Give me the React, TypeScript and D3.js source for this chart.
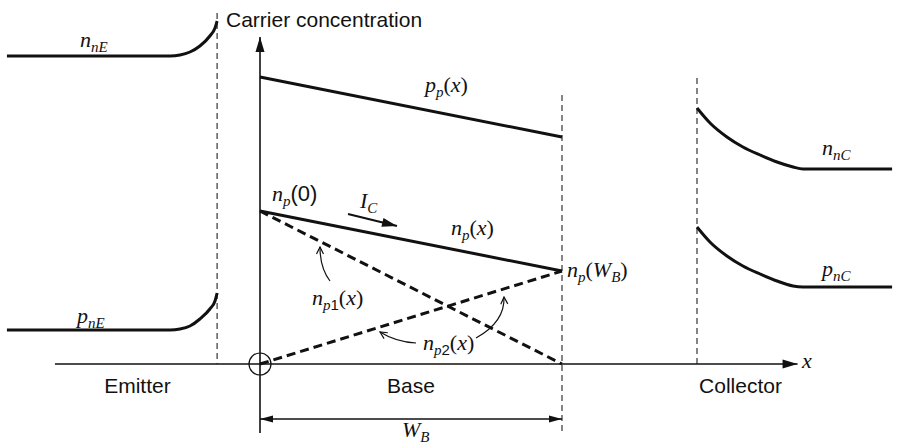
import React from "react";
import * as d3 from "d3";

// positions along x are in units of W_B (0 = emitter-base edge, 1 = base-collector edge)
const baseX = [0, 1];
const ppValues = [2.87, 2.27];
const npValues = [1.53, 0.93];
const np1Values = [1.53, 0];
const np2Values = [0, 0.93];

const emitterX = [-0.838, -0.298, -0.265, -0.232, -0.199, -0.166, -0.149, -0.142];
const nnEValues = [3.08, 3.08, 3.09, 3.12, 3.18, 3.28, 3.36, 3.43];
const pnEValues = [0.34, 0.34, 0.35, 0.38, 0.45, 0.55, 0.63, 0.71];

const collectorX = [1.447, 1.49, 1.546, 1.599, 1.656, 1.712, 1.765, 1.798, 2.093];
const nnCValues = [2.56, 2.41, 2.27, 2.17, 2.09, 2.02, 1.97, 1.95, 1.95];
const pnCValues = [1.37, 1.22, 1.08, 0.98, 0.9, 0.83, 0.78, 0.77, 0.77];

const regionNames = ["Emitter", "Base", "Collector"];
const regionCenters = [-0.406, 0.5, 1.591];

type Part = { t: string; it?: boolean; sub?: boolean; sans?: boolean };

const serif = "'Liberation Serif', 'DejaVu Serif', serif";
const sans = "'Liberation Sans', Arial, sans-serif";

function Label({ x, y, parts }: { x: number; y: number; parts: Part[] }) {
  let cur = 0;
  return (
    <text x={x} y={y} fontFamily={serif} fontSize={22} fill="#111">
      {parts.map((p, i) => {
        const target = p.sub ? 5 : 0;
        const dy = target - cur;
        cur = target;
        return (
          <tspan
            key={i}
            dy={dy}
            fontSize={p.sub ? 15 : 22}
            fontStyle={p.it ? "italic" : "normal"}
            fontFamily={p.sans ? sans : serif}
          >
            {p.t}
          </tspan>
        );
      })}
    </text>
  );
}

export default function App() {
  const x = d3.scaleLinear().domain([0, 1]).range([260, 562]);
  const y = d3.scaleLinear().domain([0, 1]).range([364, 264]);

  const straight = d3
    .line<[number, number]>()
    .x((d) => x(d[0]))
    .y((d) => y(d[1]));
  const smooth = d3
    .line<[number, number]>()
    .x((d) => x(d[0]))
    .y((d) => y(d[1]))
    .curve(d3.curveMonotoneX);

  const zip = (xs: number[], ys: number[]) =>
    xs.map((v, i) => [v, ys[i]] as [number, number]);

  const dark = "#111";

  return (
    <svg
      width={897}
      height={445}
      style={{ position: "absolute", left: 0, top: 0, background: "#fff" }}
    >
      <defs>
        <marker id="head" viewBox="-16 -6 17 12" markerWidth={17} markerHeight={12}
          refX={0} refY={0} orient="auto" markerUnits="userSpaceOnUse">
          <path d="M0,0 L-15,-4.5 L-15,4.5 Z" fill={dark} />
        </marker>
        <marker id="dim" viewBox="-14 -5 15 10" markerWidth={15} markerHeight={10}
          refX={0} refY={0} orient="auto-start-reverse" markerUnits="userSpaceOnUse">
          <path d="M0,0 L-13,-3.5 L-13,3.5 Z" fill={dark} />
        </marker>
        <marker id="open" viewBox="-9 -5 10 10" markerWidth={10} markerHeight={10}
          refX={0} refY={0} orient="auto" markerUnits="userSpaceOnUse">
          <path d="M-7,-3.5 L0,0 L-7,3.5" fill="none" stroke={dark} strokeWidth={1.2} />
        </marker>
      </defs>

      {/* junction edges */}
      <line x1={x(-0.142)} x2={x(-0.142)} y1={y(3.51)} y2={y(0)}
        stroke="#444" strokeWidth={1.3} strokeDasharray="6,4" />
      <line x1={x(1)} x2={x(1)} y1={y(2.69)} y2={y(-0.69)}
        stroke="#444" strokeWidth={1.3} strokeDasharray="6,4" />
      <line x1={x(1.447)} x2={x(1.447)} y1={y(2.86)} y2={y(0)}
        stroke="#444" strokeWidth={1.3} strokeDasharray="6,4" />

      {/* axes */}
      <line x1={x(-0.679)} x2={x(1.78)} y1={y(0)} y2={y(0)}
        stroke={dark} strokeWidth={1.6} markerEnd="url(#head)" />
      <line x1={x(0)} x2={x(0)} y1={y(-0.69)} y2={y(3.27)}
        stroke={dark} strokeWidth={1.6} markerEnd="url(#head)" />
      <circle cx={x(0)} cy={y(0)} r={11} fill="none" stroke={dark} strokeWidth={1.2} />

      {/* base profiles */}
      <path d={straight(zip(baseX, ppValues)) || ""} fill="none" stroke={dark} strokeWidth={3} />
      <path d={straight(zip(baseX, npValues)) || ""} fill="none" stroke={dark} strokeWidth={3} />
      <path d={straight(zip(baseX, np1Values)) || ""} fill="none" stroke={dark}
        strokeWidth={3} strokeDasharray="9,5" />
      <path d={straight(zip(baseX, np2Values)) || ""} fill="none" stroke={dark}
        strokeWidth={3} strokeDasharray="9,5" />

      {/* emitter and collector profiles */}
      <path d={smooth(zip(emitterX, nnEValues)) || ""} fill="none" stroke={dark} strokeWidth={3} />
      <path d={smooth(zip(emitterX, pnEValues)) || ""} fill="none" stroke={dark} strokeWidth={3} />
      <path d={smooth(zip(collectorX, nnCValues)) || ""} fill="none" stroke={dark} strokeWidth={3} />
      <path d={smooth(zip(collectorX, pnCValues)) || ""} fill="none" stroke={dark} strokeWidth={3} />

      {/* I_C arrow */}
      <line x1={348} y1={214} x2={397} y2={226} stroke={dark} strokeWidth={2.2}
        markerEnd="url(#head)" />

      {/* pointer arrows */}
      <path d="M330,281 Q320,268 320,247" fill="none" stroke={dark} strokeWidth={1.2}
        markerEnd="url(#open)" />
      <path d="M416,343 Q396,342 380,332" fill="none" stroke={dark} strokeWidth={1.2}
        markerEnd="url(#open)" />
      <path d="M476,338 Q505,322 504,297" fill="none" stroke={dark} strokeWidth={1.2}
        markerEnd="url(#open)" />

      {/* W_B dimension */}
      <line x1={x(0)} x2={x(1)} y1={419} y2={419} stroke={dark} strokeWidth={1.3}
        markerStart="url(#dim)" markerEnd="url(#dim)" />

      {/* texts */}
      <text x={226} y={27} fontFamily={sans} fontSize={21} fill={dark}>
        Carrier concentration
      </text>
      {regionNames.map((n, i) => (
        <text key={n} x={x(regionCenters[i])} y={393} textAnchor="middle"
          fontFamily={sans} fontSize={21} fill={dark}>
          {n}
        </text>
      ))}

      <Label x={80} y={47} parts={[{ t: "n", it: true }, { t: "nE", it: true, sub: true }]} />
      <Label x={77} y={323} parts={[{ t: "p", it: true }, { t: "nE", it: true, sub: true }]} />
      <Label x={822} y={155} parts={[{ t: "n", it: true }, { t: "nC", it: true, sub: true }]} />
      <Label x={822} y={276} parts={[{ t: "p", it: true }, { t: "nC", it: true, sub: true }]} />
      <Label x={425} y={92} parts={[{ t: "p", it: true }, { t: "p", it: true, sub: true },
        { t: "(" }, { t: "x", it: true }, { t: ")" }]} />
      <Label x={451} y={235} parts={[{ t: "n", it: true }, { t: "p", it: true, sub: true },
        { t: "(" }, { t: "x", it: true }, { t: ")" }]} />
      <Label x={272} y={201} parts={[{ t: "n", it: true }, { t: "p", it: true, sub: true },
        { t: "(0)", sans: true }]} />
      <Label x={360} y={208} parts={[{ t: "I", it: true }, { t: "C", it: true, sub: true }]} />
      <Label x={567} y={277} parts={[{ t: "n", it: true }, { t: "p", it: true, sub: true },
        { t: "(" }, { t: "W", it: true }, { t: "B", it: true, sub: true }, { t: ")" }]} />
      <Label x={312} y={305} parts={[{ t: "n", it: true }, { t: "p", it: true, sub: true },
        { t: "1", sub: true, sans: true }, { t: "(" }, { t: "x", it: true }, { t: ")" }]} />
      <Label x={423} y={350} parts={[{ t: "n", it: true }, { t: "p", it: true, sub: true },
        { t: "2", sub: true, sans: true }, { t: "(" }, { t: "x", it: true }, { t: ")" }]} />
      <Label x={802} y={368} parts={[{ t: "x", it: true }]} />
      <Label x={402} y={437} parts={[{ t: "W", it: true }, { t: "B", it: true, sub: true }]} />
    </svg>
  );
}
